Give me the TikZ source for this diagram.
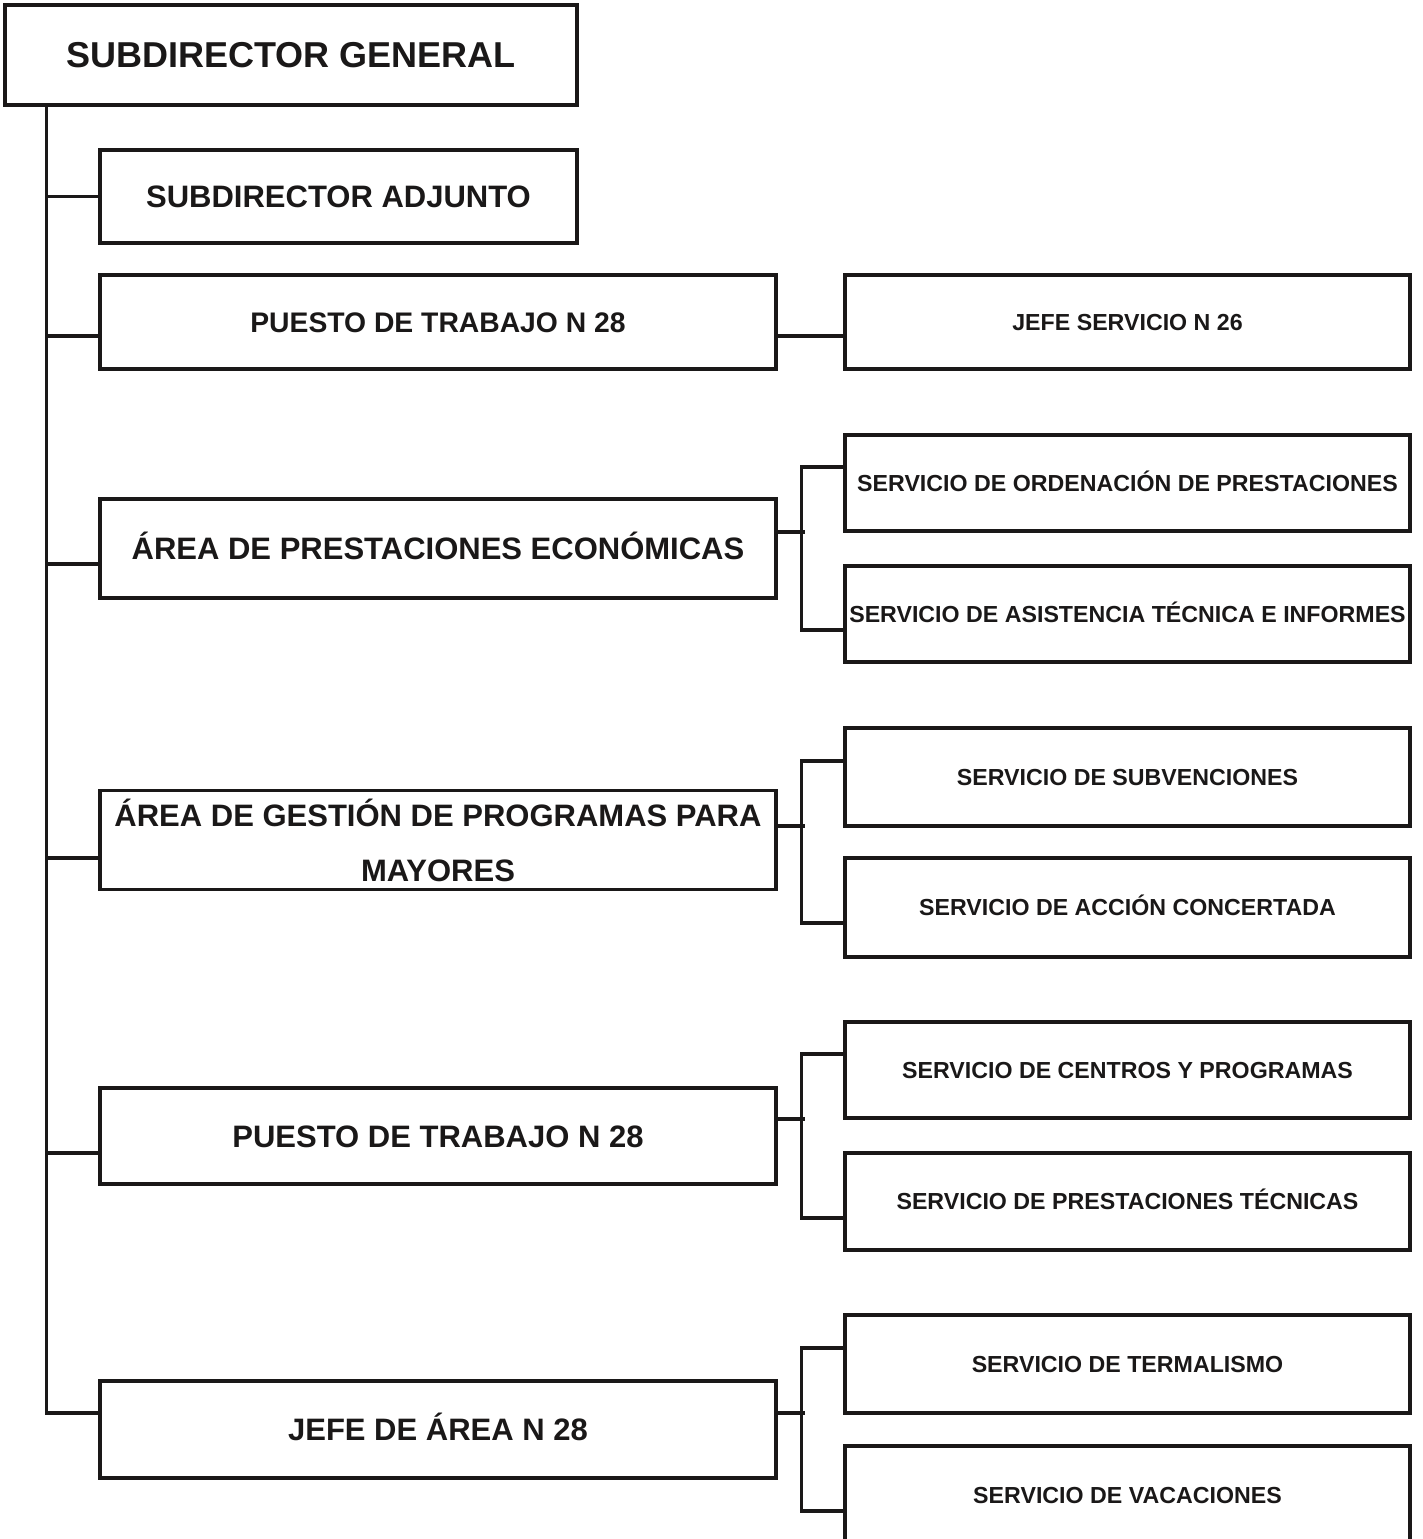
\documentclass[tikz,border=0pt]{standalone}
\usepackage{fontspec}
\setmainfont{Liberation Sans}
\usetikzlibrary{calc}
\definecolor{ink}{HTML}{1A1818}
\begin{document}
\begin{tikzpicture}[x=1pt,y=-1pt,
  box/.style={draw=ink, line width=3.2pt, rectangle, inner sep=0pt, align=center, text=ink},
  con/.style={draw=ink, line width=3.2pt},
  capbox/.style={text height=#1, text depth=0pt},
  fa/.style={font=\bfseries\fontsize{36}{43}\selectfont, capbox=25.8pt},
  fb/.style={font=\bfseries\fontsize{31}{55}\selectfont, capbox=22.2pt},
  fbm/.style={font=\bfseries\fontsize{31}{55}\selectfont},
  fc/.style={font=\bfseries\fontsize{28.3}{34}\selectfont, capbox=20.3pt},
  fd/.style={font=\bfseries\fontsize{23.2}{28}\selectfont, capbox=16.6pt},
  lbox/.style={box, minimum width=676pt},
  rbox/.style={box, minimum width=565pt, fd}]
\useasboundingbox (0,0) rectangle (1423,1539);
% top level
\node[box, fa, minimum width=572pt, minimum height=100pt] (sg) at (291,55) {SUBDIRECTOR GENERAL};
\node[box, fb, minimum width=477pt, minimum height=93pt] (sa) at (338.5,196.5) {SUBDIRECTOR ADJUNTO};
% left column
\node[lbox, fc, minimum height=94pt] (p1) at (438,322) {PUESTO DE TRABAJO N 28};
\node[lbox, fb, minimum height=99pt] (ape) at (438,548.5) {ÁREA DE PRESTACIONES ECONÓMICAS};
\node[lbox, fbm, minimum height=99pt] (agp) at (438,840) {ÁREA DE GESTIÓN DE PROGRAMAS PARA\\MAYORES};
\node[lbox, fb, minimum height=96pt] (p2) at (438,1136) {PUESTO DE TRABAJO N 28};
\node[lbox, fb, minimum height=97pt] (ja) at (438,1429.5) {JEFE DE ÁREA N 28};
% right column
\node[rbox, minimum height=94pt] (js) at (1127.5,322) {JEFE SERVICIO N 26};
\node[rbox, minimum height=96pt] (ord) at (1127.5,483) {SERVICIO DE ORDENACIÓN DE PRESTACIONES};
\node[rbox, minimum height=96pt] (asi) at (1127.5,614) {SERVICIO DE ASISTENCIA TÉCNICA E INFORMES};
\node[rbox, minimum height=98pt] (sub) at (1127.5,777) {SERVICIO DE SUBVENCIONES};
\node[rbox, minimum height=99pt] (acc) at (1127.5,907.5) {SERVICIO DE ACCIÓN CONCERTADA};
\node[rbox, minimum height=96pt] (cen) at (1127.5,1070) {SERVICIO DE CENTROS Y PROGRAMAS};
\node[rbox, minimum height=97pt] (pt) at (1127.5,1201.5) {SERVICIO DE PRESTACIONES TÉCNICAS};
\node[rbox, minimum height=98pt] (ter) at (1127.5,1364) {SERVICIO DE TERMALISMO};
\node[rbox, minimum height=99pt] (vac) at (1127.5,1495.5) {SERVICIO DE VACACIONES};
% trunk
\coordinate (tk) at ($(sg.south west)+(43,0)$);
\draw[con] (tk) |- ($(ja.west)+(0,-16.5)$);
\draw[con] (sa.west) -- (sa.west -| tk);
\draw[con] ($(p1.west)+(0,14)$) -- ++(-52,0);
\draw[con] ($(ape.west)+(0,15.5)$) -- ++(-52,0);
\draw[con] ($(agp.west)+(0,18)$) -- ++(-52,0);
\draw[con] ($(p2.west)+(0,17)$) -- ++(-52,0);
% right links
\draw[con] ($(p1.east)+(0,14)$) -- ($(js.west)+(0,14)$);
\draw[con] ($(ape.east)+(0,-16.5)$) -- ++(27,0);
\draw[con] ($(ord.west)+(0,-16)$) -- ++(-42,0) |- ($(asi.west)+(0,16)$);
\draw[con] ($(agp.east)+(0,-14)$) -- ++(27,0);
\draw[con] ($(sub.west)+(0,-16)$) -- ++(-42,0) |- ($(acc.west)+(0,15.5)$);
\draw[con] ($(p2.east)+(0,-17)$) -- ++(27,0);
\draw[con] ($(cen.west)+(0,-16)$) -- ++(-42,0) |- ($(pt.west)+(0,16.5)$);
\draw[con] ($(ja.east)+(0,-16.5)$) -- ++(27,0);
\draw[con] ($(ter.west)+(0,-16)$) -- ++(-42,0) |- ($(vac.west)+(0,15.5)$);
\end{tikzpicture}
\end{document}
